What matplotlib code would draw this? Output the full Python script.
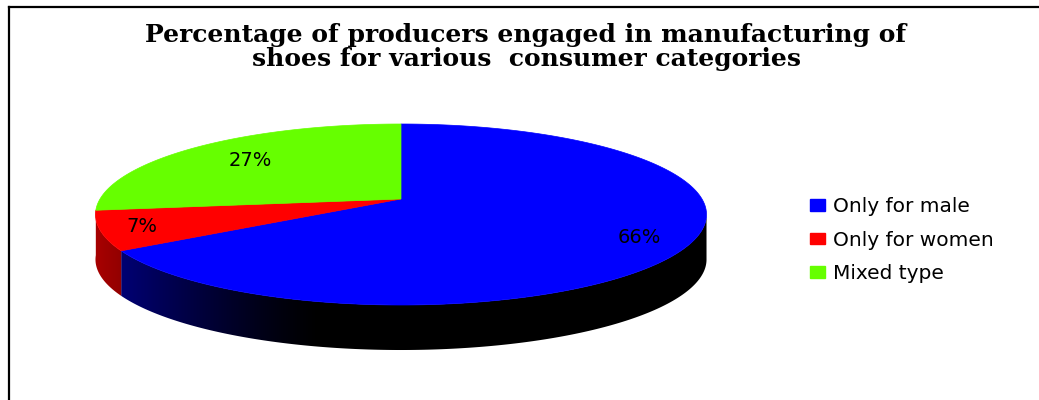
import numpy as np
import matplotlib
matplotlib.use("Agg")
import matplotlib.pyplot as plt
from matplotlib.patches import Polygon, Patch
from matplotlib.lines import Line2D

# data
categories = ["Only for male", "Only for women", "Mixed type"]
shares = [66, 7, 27]
colors = ["#0000FF", "#FF0000", "#66FF00"]
label_radius = [0.84, 0.87, 0.72]
title = "Percentage of producers engaged in manufacturing of\nshoes for various  consumer categories"

# pie geometry in pixels (perspective-ish projection of a unit disk)
cx, cy = 401.0, 199.0
a0 = 301.0
q = -53.76
r = 0.1713
depth = 45.0
# silhouette angle where the outline is widest
sil = np.degrees(np.arcsin(r))


def proj(u, v):
    den = 1 + r * v
    return cx + a0 * u / den, (cy + q * v) / den


def blue_side(x):
    f = np.clip((320 - x) / (320 - 122), 0, 1) ** 1.3
    return np.stack([0 * f, 0 * f, 0.45 * f], axis=-1)


def red_side(x):
    f = np.clip((128 - x) / 30, 0, 1)
    return np.stack([0.55 + 0.1 * f, 0 * f, 0 * f], axis=-1)


side_funcs = [blue_side, red_side, None]

fig = plt.figure(figsize=(10.39, 4.0), dpi=100)
ax = fig.add_axes([0, 0, 1, 1])
ax.set_xlim(0, 1039)
ax.set_ylim(400, 0)
ax.axis("off")

# wedge angles: start at 12 o'clock, go clockwise
fr = np.array(shares) / sum(shares)
starts = 90 - 360 * np.concatenate([[0], np.cumsum(fr)[:-1]])
ends = starts - 360 * fr

# side walls (front part only), filled with a clipped gradient
xs = np.arange(0, 1039)
for i in range(len(shares)):
    if side_funcs[i] is None:
        continue
    lo, hi = ends[i], starts[i]
    for shift in (0, -360, 360):
        a, b = max(lo + shift, -180 - sil), min(hi + shift, -sil)
        if b <= a:
            continue
        ts = np.radians(np.linspace(a, b, 300))
        top = [proj(np.cos(t), np.sin(t)) for t in ts]
        bot = [(x, y + depth) for x, y in top[::-1]]
        wall = Polygon(top + bot, closed=True, facecolor="none", edgecolor="none")
        ax.add_patch(wall)
        grad = np.repeat(side_funcs[i](xs)[None, :, :], 2, axis=0)
        img = ax.imshow(grad, extent=(0, 1039, 400, 0), aspect="auto",
                        interpolation="bilinear", zorder=1)
        img.set_clip_path(wall)

# top face
for i in range(len(shares)):
    ts = np.radians(np.linspace(starts[i], ends[i], 200))
    pts = [proj(0, 0)] + [proj(np.cos(t), np.sin(t)) for t in ts]
    ax.add_patch(Polygon(pts, closed=True, facecolor=colors[i],
                         edgecolor=colors[i], linewidth=0.5, zorder=2))

# percentage labels
for i in range(len(shares)):
    mid = np.radians((starts[i] + ends[i]) / 2)
    lx, ly = proj(label_radius[i] * np.cos(mid), label_radius[i] * np.sin(mid))
    ax.text(lx, ly, f"{shares[i]}%", ha="center", va="center", zorder=3,
            fontsize=14, family="DejaVu Sans", color="black")

ax.text(526, 47, title, ha="center", va="center", fontsize=18,
        family="DejaVu Serif", fontweight="bold", linespacing=1.05)

handles = [Patch(facecolor=c, edgecolor=c) for c in colors]
ax.legend(handles, categories, loc="upper left", bbox_to_anchor=(810, 197),
          bbox_transform=ax.transData, frameon=False, fontsize=14.5,
          borderpad=0, borderaxespad=0, handlelength=0.75, handleheight=0.5,
          handletextpad=0.4, labelspacing=0.72)

# chart frame (left and top edges visible)
fig.add_artist(Line2D([8.5 / 1039, 8.5 / 1039], [0, 1 - 7 / 400], color="black",
                      linewidth=1.6, transform=fig.transFigure))
fig.add_artist(Line2D([8.5 / 1039, 1], [1 - 7 / 400, 1 - 7 / 400], color="black",
                      linewidth=1.6, transform=fig.transFigure))

fig.savefig("out.png", dpi=100)
